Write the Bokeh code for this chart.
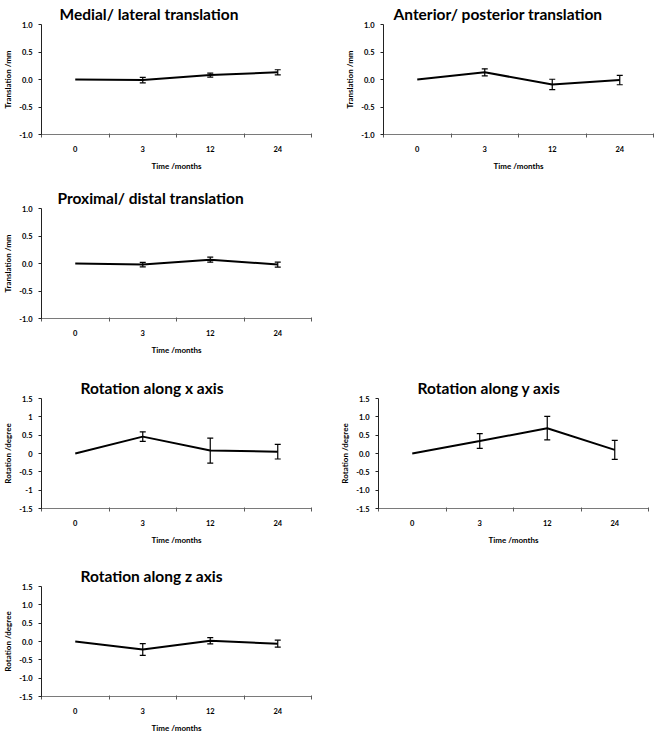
from bokeh.plotting import figure
from bokeh.layouts import column, row
from bokeh.models import FixedTicker, Range1d, Whisker, ColumnDataSource, Title, TeeHead
from bokeh.embed import file_html
from bokeh.resources import INLINE

# ---- data ----
months = ["0", "3", "12", "24"]

ml_mean = [0.0, -0.01, 0.08, 0.13]
ml_err = [0.0, 0.05, 0.035, 0.047]
ap_mean = [0.0, 0.13, -0.09, -0.01]
ap_err = [0.0, 0.065, 0.095, 0.085]
pd_mean = [0.0, -0.02, 0.07, -0.02]
pd_err = [0.0, 0.04, 0.045, 0.045]
rx_mean = [0.0, 0.46, 0.08, 0.05]
rx_err = [0.0, 0.13, 0.34, 0.2]
ry_mean = [0.0, 0.34, 0.69, 0.1]
ry_err = [0.0, 0.2, 0.32, 0.26]
rz_mean = [0.0, -0.22, 0.02, -0.06]
rz_err = [0.0, 0.16, 0.085, 0.095]

trans_ticks = [-1.0, -0.5, 0.0, 0.5, 1.0]
trans_labels = ["-1.0", "-0.5", "0.0", "0.5", "1.0"]
rot_ticks = [-1.5, -1.0, -0.5, 0.0, 0.5, 1.0, 1.5]
rot_labels = ["-1.5", "-1.0", "-0.5", "0.0", "0.5", "1.0", "1.5"]
rot_labels_x = ["-1.5", "-1", "-0.5", "0", "0.5", "1", "1.5"]

FONT = "Lato"
FW = 270
FH = 110


def panel(title, title_offset, ylabel, mean, err, yticks, ylabels, bl, bt, bb, br):
    n = len(months)
    xs = [i + 0.5 for i in range(n)]
    p = figure(frame_width=FW, frame_height=FH, output_backend="svg",
               toolbar_location=None, x_range=Range1d(0, n),
               y_range=Range1d(yticks[0], yticks[-1]),
               min_border_left=bl, min_border_top=bt, min_border_bottom=bb,
               min_border_right=br)
    p.outline_line_color = None
    p.xgrid.visible = False
    p.ygrid.visible = False
    p.background_fill_color = "white"
    p.border_fill_color = "white"

    p.line(xs, mean, line_color="black", line_width=2)
    src = ColumnDataSource(dict(
        x=[x for x, e in zip(xs, err) if e > 0],
        upper=[m + e for m, e in zip(mean, err) if e > 0],
        lower=[m - e for m, e in zip(mean, err) if e > 0]))
    w = Whisker(base="x", upper="upper", lower="lower", source=src,
                dimension="height", line_color="black", line_width=1.2,
                upper_head=TeeHead(size=6, line_color="black", line_width=1.2),
                lower_head=TeeHead(size=6, line_color="black", line_width=1.2))
    p.add_layout(w)

    xa = p.xaxis[0]
    xa.ticker = FixedTicker(ticks=xs, minor_ticks=list(range(n + 1)))
    xa.major_label_overrides = {x: m for x, m in zip(xs, months)}
    xa.major_tick_out = 0
    xa.major_tick_in = 0
    xa.minor_tick_out = 3
    xa.minor_tick_in = 1
    xa.axis_label = "Time /months"
    xa.major_label_standoff = 8
    xa.axis_label_standoff = 6
    xa.axis_line_color = "#7a7a7a"
    xa.minor_tick_line_color = "#5a5a5a"

    ya = p.yaxis[0]
    ya.ticker = FixedTicker(ticks=yticks, minor_ticks=[])
    ya.major_label_overrides = {t: l for t, l in zip(yticks, ylabels)}
    ya.major_tick_out = 3
    ya.major_tick_in = 0
    ya.minor_tick_out = 0
    ya.minor_tick_in = 0
    ya.axis_label = ylabel
    ya.major_label_standoff = 6
    ya.axis_label_standoff = 3
    ya.axis_line_color = "#222222"
    ya.major_tick_line_color = "#222222"

    for ax in (xa, ya):
        ax.axis_line_width = 1
        ax.major_label_text_font = FONT
        ax.major_label_text_font_style = "bold"
        ax.major_label_text_font_size = "7.5px"
        ax.major_label_text_color = "black"
        ax.axis_label_text_font = FONT
        ax.axis_label_text_font_style = "bold"
        ax.axis_label_text_font_size = "8px"
        ax.axis_label_text_color = "black"

    p.add_layout(Title(text=title, align="left", offset=title_offset,
                       text_font=FONT, text_font_style="bold",
                       text_font_size="15.5px", text_color="black",
                       standoff=4), "above")
    return p


p1 = panel("Medial/ lateral translation", 18, "Translation /mm", ml_mean, ml_err,
           trans_ticks, trans_labels, 36, 23, 50, 31)
p2 = panel("Anterior/ posterior translation", 10, "Translation /mm", ap_mean, ap_err,
           trans_ticks, trans_labels, 36, 23, 50, 1)
p3 = panel("Proximal/ distal translation", 16, "Translation /mm", pd_mean, pd_err,
           trans_ticks, trans_labels, 36, 23, 56, 31)
p4 = panel("Rotation along x axis", 39, "Rotation /degree", rx_mean, rx_err,
           rot_ticks, rot_labels_x, 36, 23, 54, 26)
p5 = panel("Rotation along y axis", 39, "Rotation /degree", ry_mean, ry_err,
           rot_ticks, rot_labels, 36, 23, 54, 1)
p6 = panel("Rotation along z axis", 39, "Rotation /degree", rz_mean, rz_err,
           rot_ticks, rot_labels, 36, 23, 35, 31)

layout = column(row(p1, p2), p3, row(p4, p5), p6)

open("out.html", "w").write(file_html(layout, INLINE))
